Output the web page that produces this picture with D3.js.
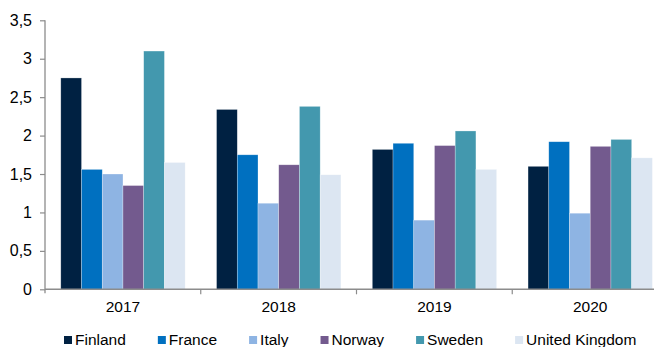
<!DOCTYPE html>
<html>
<head>
<meta charset="utf-8">
<script src="https://cdn.jsdelivr.net/npm/d3@7"></script>
<style>
  html, body { margin: 0; padding: 0; background: #fff; }
  svg { display: block; font-family: "Liberation Sans", Arial, sans-serif; }
</style>
</head>
<body>
<svg id="chart" width="654" height="347"></svg>
<script>
const years = ["2017", "2018", "2019", "2020"];
const countries = ["Finland", "France", "Italy", "Norway", "Sweden", "United Kingdom"];
const finland = [2.75, 2.34, 1.82, 1.60];
const france  = [1.56, 1.75, 1.90, 1.92];
const italy   = [1.50, 1.12, 0.90, 0.99];
const norway  = [1.35, 1.62, 1.87, 1.86];
const sweden  = [3.10, 2.38, 2.06, 1.95];
const uk      = [1.65, 1.49, 1.56, 1.71];
const yTicks = [0, 0.5, 1, 1.5, 2, 2.5, 3, 3.5];
const colors = ["#002142", "#0070c0", "#8eb4e3", "#735a8e", "#4398ae", "#dce6f2"];

const seriesValues = [finland, france, italy, norway, sweden, uk];

const svg = d3.select("#chart");
const mLeft = 45, mTop = 20.3, mBottom = 289.3;
const bandW = 155.75;

const y = d3.scaleLinear().domain([0, 3.5]).range([mBottom, mTop]);
const x0 = d3.scaleBand().domain(years).range([mLeft, mLeft + bandW * years.length]).paddingInner(0).paddingOuter(0);
const x1 = d3.scaleBand().domain(countries).range([15.8, bandW - 15.6]).padding(0);

// bars
const groups = svg.append("g").selectAll("g")
  .data(years)
  .join("g")
  .attr("transform", d => `translate(${x0(d)},0)`);

groups.selectAll("rect")
  .data((yr, i) => countries.map((c, k) => ({ c, k, v: seriesValues[k][i] })))
  .join("rect")
  .attr("x", d => x1(d.c))
  .attr("width", x1.bandwidth())
  .attr("y", d => y(d.v))
  .attr("height", d => y(0) - y(d.v))
  .attr("fill", d => colors[d.k])
  .attr("stroke", "rgba(255,255,255,0.45)")
  .attr("stroke-width", 0.6);

// y axis
const yAxis = d3.axisLeft(y)
  .tickValues(yTicks)
  .tickFormat(d => String(d).replace(".", ","))
  .tickSize(5)
  .tickPadding(8);
const ya = svg.append("g").attr("transform", `translate(${mLeft},0)`).call(yAxis);
ya.select(".domain").attr("stroke", "#8c8c8c").attr("stroke-width", 1.3).attr("d", `M0,${mTop}V${mBottom + 4}`);
ya.selectAll(".tick line").attr("stroke", "#8c8c8c").attr("stroke-width", 1.2);
ya.selectAll(".tick text").attr("fill", "#000").style("font-size", "16px").style("font-family", "Liberation Sans, Arial, sans-serif");

// x axis
const xAxis = d3.axisBottom(x0).tickSize(0).tickPadding(12);
const xa = svg.append("g").attr("transform", `translate(0,${mBottom})`).call(xAxis);
xa.select(".domain").attr("stroke", "#8c8c8c").attr("stroke-width", 1.6).attr("d", `M${mLeft},0H${mLeft + bandW * years.length}`);
xa.selectAll(".tick text").attr("fill", "#000").style("font-size", "15.5px").style("font-family", "Liberation Sans, Arial, sans-serif");

// category boundary ticks
svg.append("g").selectAll("line")
  .data(years.slice(1))
  .join("line")
  .attr("x1", d => x0(d)).attr("x2", d => x0(d))
  .attr("y1", mBottom).attr("y2", mBottom + 5)
  .attr("stroke", "#8c8c8c").attr("stroke-width", 1.2);

// legend
const legend = svg.append("g").attr("transform", "translate(64,340)");
let lx = 0;
countries.forEach((c, k) => {
  const g = legend.append("g").attr("transform", `translate(${lx},0)`);
  g.append("rect").attr("x", 0).attr("y", -4).attr("width", 8).attr("height", 8).attr("fill", colors[k]);
  const t = g.append("text").attr("x", 11).attr("y", 0).attr("dy", "0.35em")
    .style("font-size", "15.5px").attr("fill", "#000").text(c);
  lx += 11 + t.node().getComputedTextLength() + 32;
});
</script>
</body>
</html>
